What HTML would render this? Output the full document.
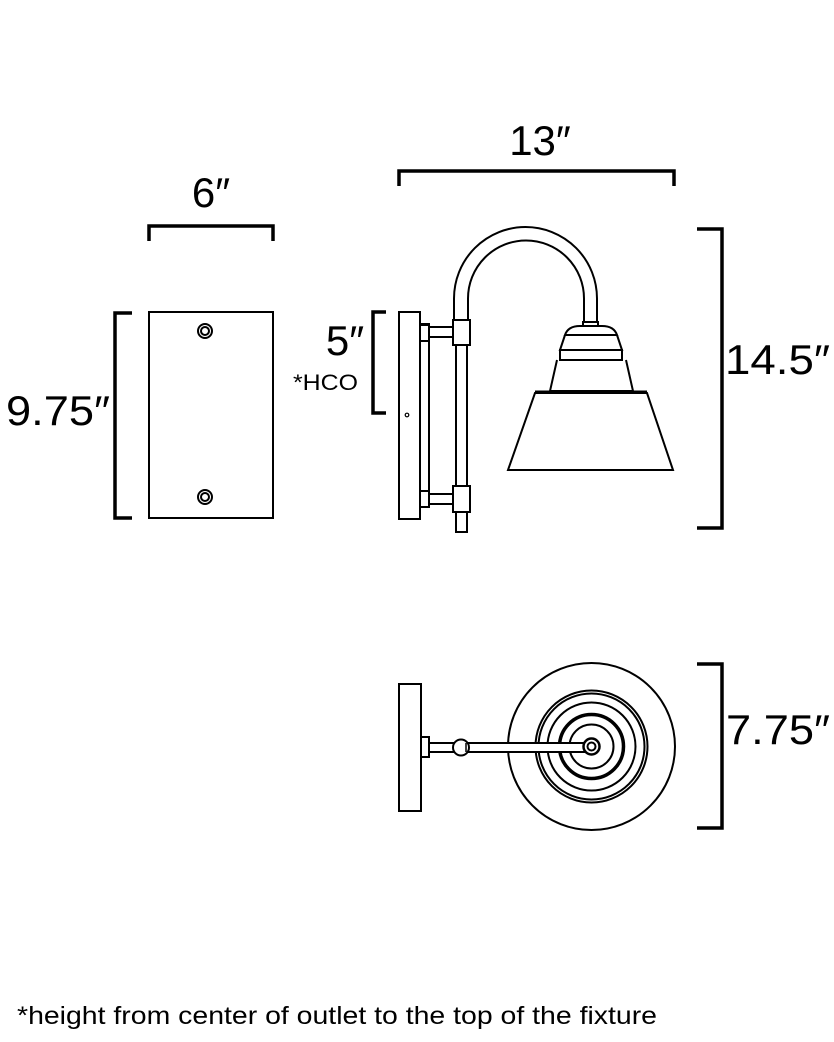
<!DOCTYPE html>
<html><head><meta charset="utf-8"><style>
html,body{margin:0;padding:0;background:#fff;}
svg{display:block;}
text{font-family:"Liberation Sans",sans-serif;fill:#000;}
</style></head><body>
<svg width="834" height="1042" viewBox="0 0 834 1042" xmlns="http://www.w3.org/2000/svg">
<g fill="none" stroke="#000">
<g stroke-width="3.5">
<path d="M149,241 V226 H273 V241"/>
<path d="M132,313 H115 V518 H132"/>
<path d="M399,186 V171 H674 V186"/>
<path d="M697,229 H722 V528 H697"/>
<path d="M386,312 H373 V413 H386"/>
<path d="M697,664 H722 V828 H697"/>
</g>
<g stroke-width="2">
<rect x="149" y="312" width="124" height="206"/>
<circle cx="205" cy="331" r="7"/><circle cx="205" cy="331" r="4"/>
<circle cx="205" cy="497" r="7"/><circle cx="205" cy="497" r="4"/>
</g>
<g stroke-width="2">
<rect x="399" y="312" width="21" height="207"/>
<circle cx="407" cy="415" r="1.8" stroke-width="1.2"/>
<rect x="420" y="325" width="9" height="182"/>
<rect x="420" y="324" width="9" height="17"/>
<rect x="420" y="491" width="9" height="16"/>
<rect x="429" y="327" width="24" height="10"/>
<rect x="429" y="494" width="24" height="10"/>
<rect x="456" y="345" width="11" height="141"/>
<rect x="456" y="512" width="11" height="20"/>
<rect x="453" y="320" width="17" height="25"/>
<rect x="453" y="486" width="17" height="26"/>
<path d="M454,320 V298.5 A71.5,71.5 0 0 1 597,298.5 V322"/>
<path d="M468,320 V298.5 A58,58 0 0 1 584,298.5 V322"/>
<rect x="583" y="322" width="15" height="4"/>
<path d="M565,335 Q568,326 580,326 H602 Q614,326 617,335 Z"/>
<path d="M565,335 L560,350 H622 L617,335"/>
<rect x="560" y="350" width="62" height="10"/>
<path d="M557,360 L550,391 H633 L626,360"/>
<path d="M535,393 H647 L673,470 H508 Z"/>
<line x1="535" y1="392" x2="647" y2="392" stroke-width="3"/>
</g>
<g stroke-width="2">
<rect x="399" y="684" width="22" height="127"/>
<rect x="421" y="737" width="8" height="20"/>
<rect x="429" y="743" width="30" height="9"/>
<circle cx="591.5" cy="746.5" r="83.5"/>
<circle cx="591.5" cy="746.5" r="56"/>
<circle cx="591.5" cy="746.5" r="53"/>
<circle cx="591.5" cy="746.5" r="44"/>
<circle cx="591.5" cy="746.5" r="32" stroke-width="3.5"/>
<circle cx="591.5" cy="746.5" r="22"/>
<path d="M461,743 H591 V752 H461 Z" fill="#fff"/>
<circle cx="461" cy="747.5" r="8" fill="#fff"/>
<path d="M466,743 V752" stroke-width="1.5"/>
<circle cx="591.5" cy="746.5" r="8" stroke-width="2.5" fill="#fff"/>
<circle cx="591.5" cy="746.5" r="4"/>
</g>
</g>
<text x="211" y="207" font-size="42" text-anchor="middle">6″</text>
<text x="540" y="155" font-size="42" text-anchor="middle">13″</text>
<text x="6" y="425" font-size="42" textLength="104" lengthAdjust="spacingAndGlyphs">9.75″</text>
<text x="725" y="374" font-size="42" textLength="105" lengthAdjust="spacingAndGlyphs">14.5″</text>
<text x="345" y="355" font-size="42" text-anchor="middle">5″</text>
<text x="293" y="390" font-size="22" textLength="65" lengthAdjust="spacingAndGlyphs">*HCO</text>
<text x="726" y="744" font-size="42" textLength="104" lengthAdjust="spacingAndGlyphs">7.75″</text>
<text x="17" y="1024" font-size="25" textLength="640" lengthAdjust="spacingAndGlyphs">*height from center of outlet to the top of the fixture</text>
</svg>
</body></html>
